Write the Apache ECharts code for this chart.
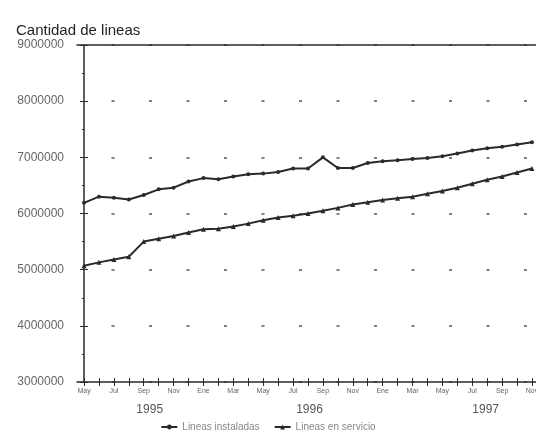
<!DOCTYPE html>
<html><head><meta charset="utf-8">
<script src="https://cdn.jsdelivr.net/npm/echarts@6/dist/echarts.min.js"></script>
<style>html,body{margin:0;padding:0;background:#fff}#c{width:536px;height:439px}</style>
</head><body><div id="c"></div>
<script>
const months = ['May','Jun','Jul','Ago','Sep','Oct','Nov','Dic','Ene','Feb','Mar','Abr','May','Jun','Jul','Ago','Sep','Oct','Nov','Dic','Ene','Feb','Mar','Abr','May','Jun','Jul','Ago','Sep','Oct','Nov'];
const labelMonthIdx = [0,2,4,6,8,10,12,14,16,18,20,22,24,26,28,30];
const yearLabels = ['1995','1996','1997'];
const yearLabelPos = [4.4, 15.1, 26.9];
const instaladas = [6190000,6300000,6280000,6250000,6330000,6430000,6460000,6570000,6630000,6610000,6660000,6700000,6710000,6740000,6800000,6800000,7000000,6810000,6810000,6900000,6930000,6950000,6970000,6990000,7020000,7070000,7120000,7160000,7190000,7230000,7270000];
const servicio = [5070000,5130000,5180000,5230000,5500000,5550000,5600000,5660000,5720000,5730000,5770000,5820000,5880000,5930000,5960000,6000000,6050000,6100000,6160000,6200000,6240000,6270000,6300000,6350000,6400000,6460000,6530000,6600000,6660000,6730000,6800000];

const chart = echarts.init(document.getElementById('c'), null, {renderer:'canvas'});
const idx = months.map((m,i)=>i);
const ink = '#2a2a2a';
const font = 'Liberation Sans, Arial, sans-serif';
const xMin = -0.47, xMax = 30.27;
chart.setOption({
  animation:false,
  title:{text:'Cantidad de lineas',left:11,top:18,textStyle:{fontFamily:font,fontSize:15,fontWeight:'normal',color:'#222'}},
  grid:{left:77,right:0,top:45,bottom:57,containLabel:false,outerBoundsMode:'none'},
  legend:{bottom:2,left:'center',itemWidth:16,itemHeight:6,itemGap:14,
    textStyle:{fontFamily:font,fontSize:10,color:'#888'},
    data:['Lineas instaladas','Lineas en servicio']},
  xAxis:[
    {type:'value',min:xMin,max:xMax,position:'bottom',
     axisLine:{show:true,lineStyle:{color:ink,width:1.5}},
     axisTick:{show:true,length:4,customValues:idx,lineStyle:{color:ink,width:1}},
     axisLabel:{show:true,customValues:labelMonthIdx,formatter:v=>months[Math.round(v)],fontSize:7,color:'#666',fontFamily:font,margin:6,hideOverlap:false},
     splitLine:{show:false}},
    {type:'value',min:xMin,max:xMax,position:'bottom',
     axisLine:{show:false},
     axisTick:{show:true,inside:true,length:4,customValues:idx,lineStyle:{color:ink,width:1}},
     axisLabel:{show:false},splitLine:{show:false}},
    {type:'value',min:xMin,max:xMax,position:'bottom',
     axisLine:{show:false},axisTick:{show:false},
     axisLabel:{show:true,customValues:yearLabelPos,formatter:v=>yearLabels[yearLabelPos.indexOf(v)],fontSize:12,color:'#555',fontFamily:font,margin:22},
     splitLine:{show:false}},
    {type:'value',min:xMin,max:xMax,position:'top',
     axisLine:{show:true,lineStyle:{color:ink,width:1.5}},axisTick:{show:false},axisLabel:{show:false},splitLine:{show:false}}
  ],
  yAxis:[
    {type:'value',min:3000000,max:9000000,interval:1000000,
     axisLine:{show:true,lineStyle:{color:ink,width:1.5}},
     axisTick:{show:true,length:4,lineStyle:{color:ink,width:1}},
     minorTick:{show:true,splitNumber:2,length:2,lineStyle:{color:ink}},
     axisLabel:{fontSize:12,color:'#666',fontFamily:font,margin:13,formatter:v=>String(v)},
     splitLine:{show:true,lineStyle:{color:'#555',width:1.5,type:[3,34.5],dashOffset:3}}},
    {type:'value',min:3000000,max:9000000,interval:1000000,position:'left',
     axisLine:{show:false},
     axisTick:{show:true,inside:true,length:4,lineStyle:{color:ink,width:1}},
     axisLabel:{show:false},splitLine:{show:false}}
  ],
  series:[
    {name:'Lineas instaladas',type:'line',data:idx.map(i=>[i,instaladas[i]]),
     symbol:'circle',symbolSize:4,lineStyle:{color:ink,width:2},itemStyle:{color:ink}},
    {name:'Lineas en servicio',type:'line',data:idx.map(i=>[i,servicio[i]]),
     symbol:'triangle',symbolSize:5,lineStyle:{color:ink,width:2},itemStyle:{color:ink}}
  ]
});
</script></body></html>
